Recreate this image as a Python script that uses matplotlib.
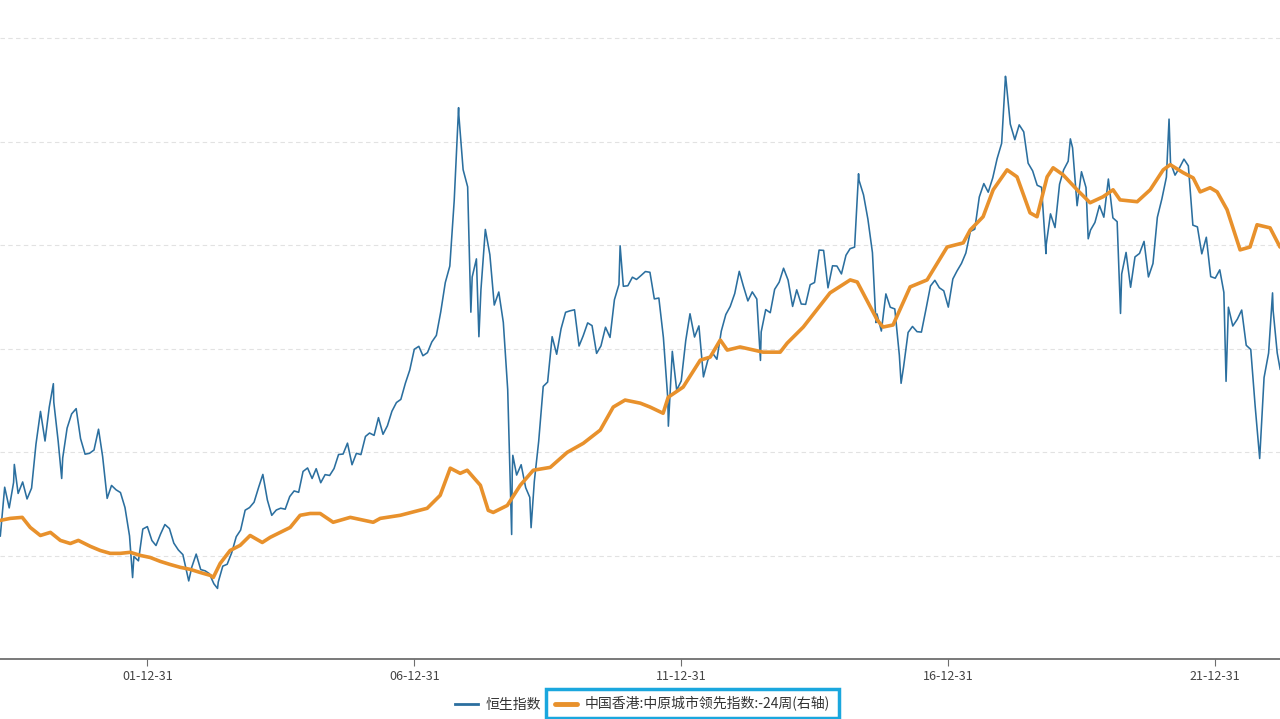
import matplotlib
matplotlib.use("Agg")
import matplotlib.pyplot as plt
import matplotlib.dates as mdates
from matplotlib.patches import Rectangle
import pandas as pd

plt.rcParams['font.family'] = ['Noto Sans CJK SC', 'DejaVu Sans']

# 恒生指数, month-end closes from 1999-03
hsi_start = "1999-03-31"
hsi_monthly = [
    10942, 13300, 12300, 13532, 13000, 13554, 12733, 13256, 15377, 16962,
    15532, 17170, 17407, 15519, 14713, 16155, 16841, 17097, 15648, 14895, 14937, 15096,
    16102, 14788, 12761, 13386, 13174, 13043, 12316, 10950, 9951, 9743, 11280, 11397,
    10726, 10482, 11033, 11497, 11301, 10599, 10268, 10043, 9072, 9441, 10069, 9321,
    9258, 9123, 8634, 8717, 9487, 9577, 10134, 10908, 11229, 12190, 12317, 12576,
    13289, 13918, 12682, 11942, 12198, 12286, 12238, 12850, 13120, 13054, 14060, 14230,
    13721, 14195, 13516, 13908, 13868, 14201, 14880, 14903, 15429, 14386, 14937, 14876,
    15753, 15918, 15805, 16661, 15857, 16267, 16971, 17392, 17543, 18324, 18960, 19965,
    20107, 19652, 19801, 20319, 20635, 21773, 23185, 23984, 27143, 31352, 28643, 27813,
    23456, 24332, 22849, 25755, 24533, 22102, 22731, 21262, 18016, 13969, 13888, 14387,
    13278, 12812, 13576, 15521, 18171, 18379, 20573, 19724, 20955, 21752, 21822, 21873,
    20122, 20609, 21239, 21108, 19765, 20129, 21030, 20536, 22359, 23096, 23008, 23035,
    23447, 23338, 23528, 23721, 23684, 22398, 22440, 20535, 17592, 19864, 17989, 18434,
    20390, 21680, 20556, 21094, 18630, 19441, 19796, 19482, 20840, 21642, 22030, 22657,
    23730, 23020, 22300, 22737, 22392, 20803, 21883, 21731, 22860, 23206, 23881, 23306,
    22035, 22837, 22151, 22134, 23082, 23191, 24757, 24742, 22933, 23998, 23987, 23605,
    24507, 24823, 24901, 28133, 27424, 26250, 24636, 21671, 20846, 22640, 21996, 21914,
    19683, 19112, 20777, 21067, 20815, 20794, 21891, 23023, 23297, 22935, 22790, 22001,
    23361, 23741, 24112, 24615, 25661, 25765, 27323, 27970, 27554, 28246, 29177, 29919,
    32887, 30845, 30093, 30808, 30469, 28955, 28583, 27889, 27789, 24980, 26507, 25846,
    27942, 28633, 29051, 29699, 26901, 28543, 27778, 25725, 26092, 26907, 26346, 28190,
    26313, 26130, 23603, 24644, 22961, 24427, 24595, 25177, 23459, 24107, 26341, 27231,
    28284, 28980, 28378, 28725, 29152, 28828, 25961, 25879, 24576, 25377, 23475, 23398,
    23802, 22713, 21997, 21089, 21415, 21860, 20157, 19954, 17223, 14687, 18597, 19781,
    21842, 19786,
]

# intra-month highs / lows visible in the picture
hsi_extreme_dates = [
    "1999-07-05", "2000-03-28", "2000-05-24", "2001-09-21", "2002-10-10", "2003-04-25",
    "2007-10-30", "2008-01-22", "2008-03-17", "2008-10-27", "2008-11-04", "2009-03-09",
    "2010-11-08", "2011-10-04", "2013-06-25", "2015-04-27", "2015-08-24", "2016-02-12",
    "2018-01-26", "2018-10-30", "2019-04-15", "2019-08-15", "2020-03-23", "2021-02-18",
    "2022-03-15", "2023-01-27", "2023-03-20",
]
hsi_extreme_values = [
    14400, 18302, 13722, 8934, 8772, 8409,
    31638, 21757, 20572, 11016, 14840, 11345,
    24964, 16250, 19426, 28443, 21252, 18320,
    33154, 24586, 30130, 25302, 21696, 31085,
    18415, 22689, 19000,
]

# 中国香港:中原城市领先指数 (shifted -24 weeks), right axis
ccl_dates = [
    "1999-03-29", "1999-06-07", "1999-08-28", "1999-10-22", "1999-12-30", "2000-03-08",
    "2000-05-15", "2000-07-22", "2000-09-15", "2000-12-06", "2001-02-12", "2001-04-21",
    "2001-06-28", "2001-09-05", "2001-11-13", "2002-01-20", "2002-03-29", "2002-06-05",
    "2002-08-13", "2002-10-21", "2002-12-28", "2003-03-06", "2003-03-27", "2003-05-13",
    "2003-07-20", "2003-09-27", "2003-12-04", "2004-02-25", "2004-04-20", "2004-06-27",
    "2004-09-03", "2004-11-10", "2005-01-18", "2005-03-27", "2005-06-24", "2005-10-19",
    "2006-03-25", "2006-05-12", "2006-09-26", "2007-03-29", "2007-06-26", "2007-09-03",
    "2007-11-10", "2007-12-28", "2008-03-27", "2008-05-20", "2008-06-23", "2008-09-27",
    "2008-12-25", "2009-03-24", "2009-07-18", "2009-11-11", "2010-03-01", "2010-06-25",
    "2010-09-22", "2010-12-12", "2011-03-26", "2011-06-01", "2011-08-29", "2011-10-03",
    "2012-01-13", "2012-05-09", "2012-07-16", "2012-09-23", "2012-11-10", "2013-02-06",
    "2013-07-13", "2013-11-07", "2013-12-25", "2014-04-14", "2014-10-14", "2015-03-01",
    "2015-04-18", "2015-09-02", "2015-10-12", "2015-12-19", "2016-04-14", "2016-08-08",
    "2016-12-23", "2017-04-12", "2017-05-30", "2017-08-26", "2017-11-03", "2018-02-06",
    "2018-04-15", "2018-07-13", "2018-08-30", "2018-11-07", "2018-12-18", "2019-02-24",
    "2019-05-31", "2019-08-28", "2019-11-24", "2020-02-01", "2020-03-20", "2020-07-15",
    "2020-10-12", "2021-01-09", "2021-02-26", "2021-05-26", "2021-08-02", "2021-09-19",
    "2021-11-26", "2022-01-13", "2022-03-22", "2022-06-19", "2022-08-26", "2022-10-13",
    "2023-01-10", "2023-03-19",
]
ccl_values = [
    53.5, 54.3, 54.7, 50.8, 47.7, 48.9,
    45.8, 44.6, 45.8, 43.5, 41.9, 40.8,
    40.8, 41.2, 40.0, 39.2, 37.7, 36.5,
    35.4, 34.6, 33.4, 32.3, 31.5, 36.9,
    41.9, 43.9, 47.7, 45.0, 47.0, 48.9,
    50.8, 55.5, 56.2, 56.2, 52.8, 54.7,
    52.8, 54.3, 55.5, 58.2, 63.2, 73.7,
    71.7, 72.9, 67.1, 57.4, 56.6, 59.3,
    67.1, 72.9, 74.0, 79.8, 83.3, 88.4,
    97.3, 100.0, 98.8, 97.3, 94.9, 101.1,
    105.0, 115.4, 116.6, 123.2, 119.3, 120.5,
    118.5, 118.5, 122.0, 128.2, 141.4, 146.4,
    145.6, 130.9, 128.2, 129.0, 143.7, 146.4,
    159.1, 160.7, 165.7, 170.8, 181.2, 188.9,
    186.2, 172.3, 170.8, 186.2, 189.7, 187.0,
    181.2, 176.2, 178.5, 181.2, 177.3, 176.6,
    181.2, 188.9, 190.9, 187.8, 185.8, 180.4,
    182.0, 180.4, 173.5, 158.0, 159.1, 167.7,
    166.5, 159.1,
]

tick_dates = ["2001-12-31", "2006-12-31", "2011-12-31", "2016-12-31", "2021-12-31"]
left_grid = [10000, 15000, 20000, 25000, 30000, 35000]
names = ["恒生指数", "中国香港:中原城市领先指数:-24周(右轴)"]

months = pd.date_range(hsi_start, periods=len(hsi_monthly), freq="ME")
hsi = pd.concat([pd.Series(hsi_monthly, index=months),
                 pd.Series(hsi_extreme_values, index=pd.to_datetime(hsi_extreme_dates))]).sort_index()
ccl = pd.Series(ccl_values, index=pd.to_datetime(ccl_dates))

blue = "#2b6f9f"
orange = "#e8912c"

fig = plt.figure(figsize=(12.8, 7.19), dpi=100)
ax = fig.add_axes([0, 60 / 719, 1, 659 / 719])
ax2 = ax.twinx()

l1, = ax.plot(hsi.index, hsi.values, color=blue, lw=1.15, label=names[0])
l2, = ax2.plot(ccl.index, ccl.values, color=orange, lw=2.6,
               solid_capstyle="round", solid_joinstyle="round", label=names[1])

ax.set_xlim(pd.Timestamp("1999-03-29"), pd.Timestamp("2023-03-19"))
ax.set_ylim(5000, 36840)
ax2.set_ylim(0, 254.5)

ax.set_yticks(left_grid)
ax.yaxis.grid(True, ls=(0, (4, 3)), color="#e2e2e2", lw=0.8)
ax.tick_params(axis="y", length=0, labelleft=False)
ax2.set_yticks([])
for a in (ax, ax2):
    for s in ("left", "right", "top"):
        a.spines[s].set_visible(False)
ax.spines["bottom"].set_color("#6e6e6e")
ax.spines["bottom"].set_linewidth(1.3)
ax2.spines["bottom"].set_visible(False)

ax.set_xticks(pd.to_datetime(tick_dates))
ax.xaxis.set_major_formatter(mdates.DateFormatter("%y-%m-%d"))
ax.tick_params(axis="x", length=5, width=0.8, color="#6e6e6e", pad=3,
               labelsize=9, labelcolor="#444444")

leg = fig.legend(handles=[l1, l2], loc="center", bbox_to_anchor=(0.502, 15 / 719),
                 ncol=2, frameon=False, fontsize=10, handlelength=1.6,
                 handletextpad=0.55, columnspacing=1.0, labelcolor="#333333")
leg.legend_handles[0].set_linewidth(2.0)
leg.legend_handles[1].set_linewidth(3.5)

# cyan highlight box around the second legend entry
fig.canvas.draw()
r = fig.canvas.get_renderer()
hb = leg.legend_handles[1].get_window_extent(r)
tb = leg.get_texts()[1].get_window_extent(r)
x0, x1 = hb.x0 - 9, tb.x1 + 9
yc = (tb.y0 + tb.y1) / 2
y0, y1 = yc - 14, yc + 15
inv = fig.transFigure.inverted()
(fx0, fy0), (fx1, fy1) = inv.transform([(x0, y0), (x1, y1)])
fig.add_artist(Rectangle((fx0, fy0), fx1 - fx0, fy1 - fy0, transform=fig.transFigure,
                         fill=False, edgecolor="#1aa7de", lw=2.5))

fig.savefig("out.png", dpi=100)
